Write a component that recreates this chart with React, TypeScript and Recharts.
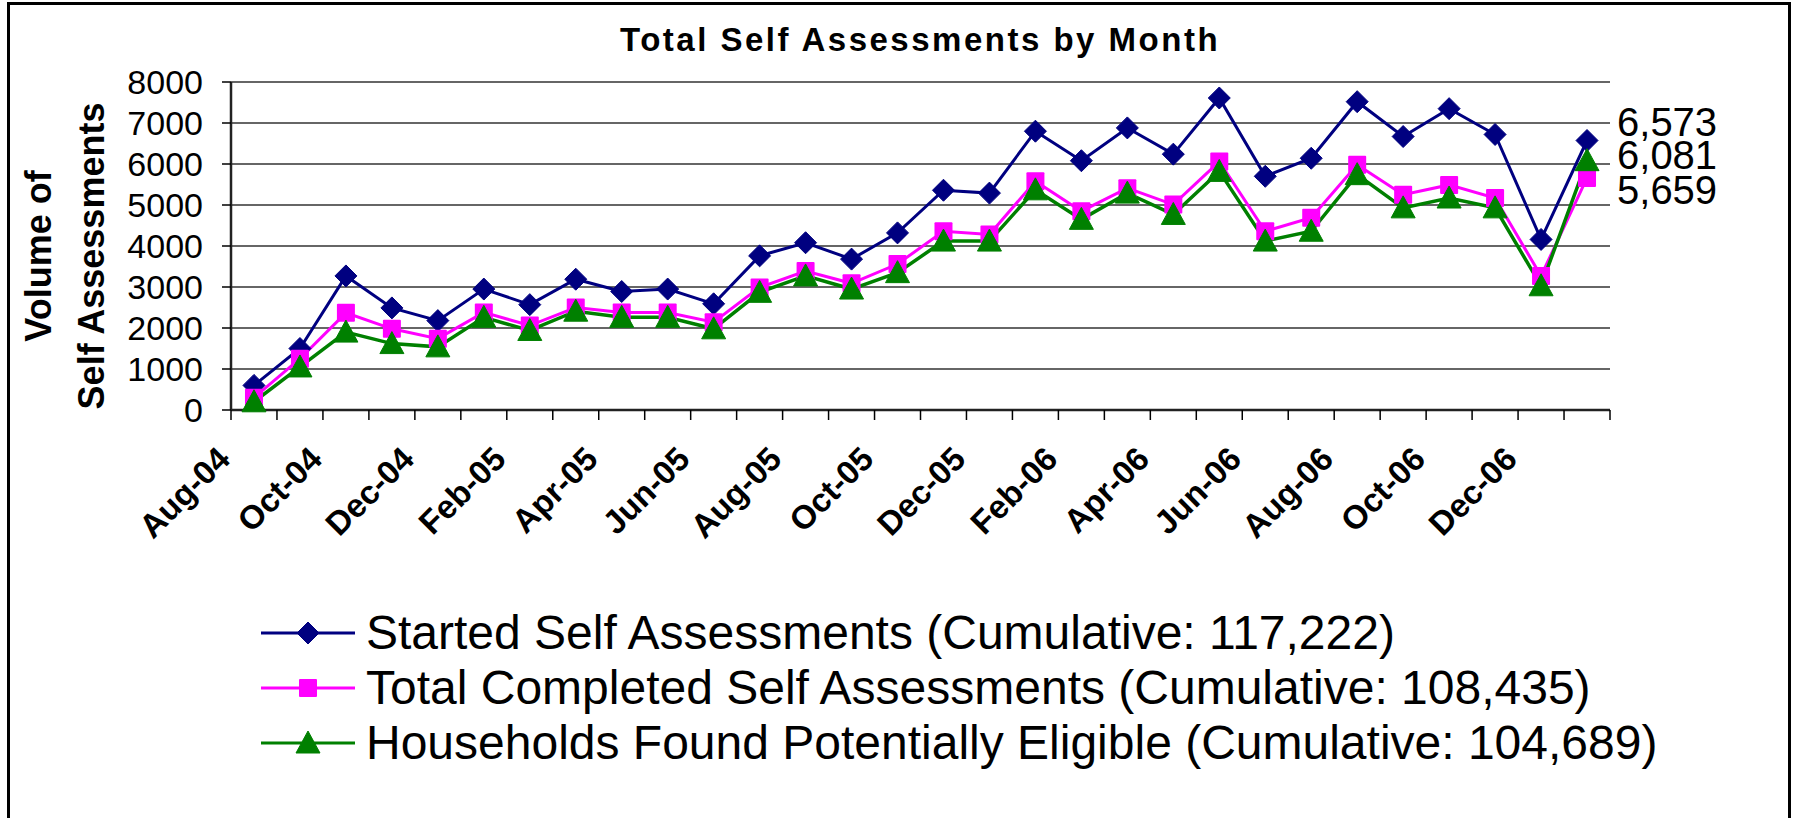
import React from "react";
import {
  LineChart,
  Line,
  XAxis,
  YAxis,
  CartesianGrid,
  Legend,
  LabelList,
} from "recharts";

const FONT = '"Liberation Sans", Arial, sans-serif';

const MONTHS = [
  "Aug-04", "Sep-04", "Oct-04", "Nov-04", "Dec-04", "Jan-05", "Feb-05", "Mar-05",
  "Apr-05", "May-05", "Jun-05", "Jul-05", "Aug-05", "Sep-05", "Oct-05", "Nov-05",
  "Dec-05", "Jan-06", "Feb-06", "Mar-06", "Apr-06", "May-06", "Jun-06", "Jul-06",
  "Aug-06", "Sep-06", "Oct-06", "Nov-06", "Dec-06", "Jan-07",
];

const STARTED = [
  600, 1500, 3270, 2490, 2180, 2950, 2570, 3190, 2890, 2950, 2590, 3760, 4080, 3680, 4320,
  5360, 5290, 6800, 6080, 6880, 6240, 7610, 5700, 6140, 7520, 6670, 7350, 6720, 4160, 6573,
];

const COMPLETED = [
  300, 1250, 2370, 1980, 1740, 2380, 2060, 2500, 2380, 2380, 2140, 2990, 3390, 3090, 3560,
  4360, 4280, 5580, 4850, 5410, 5010, 6060, 4360, 4690, 5980, 5250, 5490, 5170, 3270, 5659,
];

const ELIGIBLE = [
  200, 1050, 1900, 1620, 1540, 2260, 1940, 2410, 2260, 2260, 1980, 2870, 3270, 2950, 3350,
  4120, 4120, 5370, 4650, 5290, 4770, 5820, 4120, 4360, 5740, 4930, 5170, 4930, 3030, 6081,
];

const SERIES_KEYS = ["started", "completed", "eligible"];
const SERIES_NAMES = [
  "Started Self Assessments (Cumulative: 117,222)",
  "Total Completed Self Assessments (Cumulative: 108,435)",
  "Households Found Potentially Eligible (Cumulative: 104,689)",
];

const Y_TICKS = [0, 1000, 2000, 3000, 4000, 5000, 6000, 7000, 8000];
const X_TICKS = Array.from({ length: MONTHS.length + 1 }, (_, i) => i);

const NAVY = "#000080";
const MAGENTA = "#FF00FF";
const GREEN = "#008000";

// category index -> centre of its slot on a numeric axis
const chartData = MONTHS.map((month, i) => ({
  pos: i + 0.5,
  month,
  started: STARTED[i],
  completed: COMPLETED[i],
  eligible: ELIGIBLE[i],
}));

function marker(shape: string, cx: number, cy: number, color: string) {
  if (shape === "diamond") {
    const r = 11;
    return (
      <path
        d={`M${cx},${cy - r}L${cx + r},${cy}L${cx},${cy + r}L${cx - r},${cy}Z`}
        fill={color}
        stroke={color}
      />
    );
  }
  if (shape === "square") {
    return <rect x={cx - 9} y={cy - 9} width={18} height={18} fill={color} rx={1} />;
  }
  return (
    <path
      d={`M${cx},${cy - 12}L${cx + 12},${cy + 10}L${cx - 12},${cy + 10}Z`}
      fill={color}
      stroke={color}
    />
  );
}

const SHAPES: Record<string, string> = {
  started: "diamond",
  completed: "square",
  eligible: "triangle",
};

const makeDot = (shape: string, color: string) => (props: any) => {
  const { cx, cy, index } = props;
  if (cx == null || cy == null) return <g key={index} />;
  return <g key={index}>{marker(shape, cx, cy, color)}</g>;
};

const makeEndLabel = (dy: number) => (props: any) => {
  const { x, y, value, index } = props;
  if (index !== MONTHS.length - 1) return <g />;
  return (
    <text
      x={x + 30}
      y={y + dy}
      dominantBaseline="central"
      fontSize={40}
      fontFamily={FONT}
      fill="#000"
    >
      {Number(value).toLocaleString("en-US")}
    </text>
  );
};

function MonthTick(props: any) {
  const { x, y, payload } = props;
  const i = payload.value;
  if (i % 2 !== 0 || i >= MONTHS.length) return <g />;
  const ax = x + 1;
  const ay = y + 41;
  return (
    <text
      x={ax}
      y={ay}
      transform={`rotate(-45, ${ax}, ${ay})`}
      textAnchor="end"
      fontSize={33}
      fontWeight="bold"
      fontFamily={FONT}
      fill="#000"
    >
      {MONTHS[i]}
    </text>
  );
}

function YTitle(props: any) {
  const { viewBox } = props;
  const cy = viewBox.y + viewBox.height / 2 + 10;
  const x1 = viewBox.x + 38;
  const x2 = viewBox.x + 91;
  return (
    <g fontSize={36} fontWeight="bold" fontFamily={FONT} fill="#000">
      <text x={x1} y={cy} textAnchor="middle" dominantBaseline="central" transform={`rotate(-90, ${x1}, ${cy})`}>
        Volume of
      </text>
      <text x={x2} y={cy} textAnchor="middle" dominantBaseline="central" transform={`rotate(-90, ${x2}, ${cy})`}>
        Self Assessments
      </text>
    </g>
  );
}

function LegendContent(props: any) {
  const { payload } = props;
  const colorOf = (key: string) =>
    (payload || []).find((p: any) => p.dataKey === key)?.color;
  return (
    <div style={{ fontFamily: FONT }}>
      {SERIES_KEYS.map((key, i) => (
        <div key={key} style={{ display: "flex", alignItems: "center", height: 55 }}>
          <svg width={100} height={30} style={{ flex: "none" }}>
            <line x1={3} x2={97} y1={15} y2={15} stroke={colorOf(key)} strokeWidth={3} />
            {marker(SHAPES[key], 50, 15, colorOf(key))}
          </svg>
          <span
            style={{
              marginLeft: 8,
              fontSize: 48,
              lineHeight: 1,
              color: "#000",
              whiteSpace: "nowrap",
            }}
          >
            {SERIES_NAMES[i]}
          </span>
        </div>
      ))}
    </div>
  );
}

export default function App() {
  return (
    <div
      style={{
        position: "fixed",
        left: 0,
        top: 0,
        width: 1795,
        height: 818,
        background: "#fff",
        overflow: "hidden",
        fontFamily: FONT,
      }}
    >
      {/* outer chart frame */}
      <div
        style={{
          position: "absolute",
          left: 7,
          top: 2,
          width: 1778,
          height: 900,
          border: "3px solid #000",
        }}
      />
      <div
        style={{
          position: "absolute",
          left: 420,
          top: 23,
          width: 1000,
          textAlign: "center",
          fontSize: 33,
          lineHeight: "34px",
          fontWeight: "bold",
          letterSpacing: 2.5,
          color: "#000",
        }}
      >
        Total Self Assessments by Month
      </div>
      <div style={{ position: "absolute", left: 0, top: 0 }}>
        <LineChart
          width={1795}
          height={818}
          data={chartData}
          margin={{ top: 82, right: 185, left: 0, bottom: 348 }}
        >
          <CartesianGrid vertical={false} stroke="#333" strokeWidth={1.5} fill="none" />
          <XAxis
            xAxisId="top"
            orientation="top"
            type="number"
            domain={[0, MONTHS.length]}
            height={0}
            tick={false}
            tickLine={false}
            axisLine={{ stroke: "#8c8c8c", strokeWidth: 3 }}
          />
          <YAxis
            yAxisId="right"
            orientation="right"
            domain={[0, 8000]}
            width={0}
            tick={false}
            tickLine={false}
            axisLine={{ stroke: "#8c8c8c", strokeWidth: 3 }}
          />
          <XAxis
            dataKey="pos"
            type="number"
            domain={[0, MONTHS.length]}
            ticks={X_TICKS}
            interval={0}
            height={60}
            tickSize={10}
            tickMargin={0}
            tickLine={{ stroke: "#000", strokeWidth: 1.5 }}
            axisLine={{ stroke: "#222", strokeWidth: 2.5 }}
            tick={<MonthTick />}
          />
          <YAxis
            domain={[0, 8000]}
            ticks={Y_TICKS}
            interval={0}
            width={231}
            tickSize={9}
            tickMargin={19}
            tickLine={{ stroke: "#000", strokeWidth: 1.5 }}
            axisLine={{ stroke: "#222", strokeWidth: 2.5 }}
            tick={{ fontSize: 34, fill: "#000", fontFamily: FONT }}
            label={<YTitle />}
          />
          <Legend
            layout="vertical"
            align="center"
            verticalAlign="middle"
            wrapperStyle={{ left: 258, top: 605, width: 1500, height: 170 }}
            content={<LegendContent />}
          />
          <Line
            dataKey="started"
            name={SERIES_NAMES[0]}
            type="linear"
            stroke={NAVY}
            strokeWidth={3}
            dot={makeDot("diamond", NAVY)}
            activeDot={false}
            isAnimationActive={false}
          >
            <LabelList dataKey="started" content={makeEndLabel(-19)} />
          </Line>
          <Line
            dataKey="completed"
            name={SERIES_NAMES[1]}
            type="linear"
            stroke={MAGENTA}
            strokeWidth={3}
            dot={makeDot("square", MAGENTA)}
            activeDot={false}
            isAnimationActive={false}
          >
            <LabelList dataKey="completed" content={makeEndLabel(12)} />
          </Line>
          <Line
            dataKey="eligible"
            name={SERIES_NAMES[2]}
            type="linear"
            stroke={GREEN}
            strokeWidth={3.5}
            dot={makeDot("triangle", GREEN)}
            activeDot={false}
            isAnimationActive={false}
          >
            <LabelList dataKey="eligible" content={makeEndLabel(-6)} />
          </Line>
        </LineChart>
      </div>
    </div>
  );
}
